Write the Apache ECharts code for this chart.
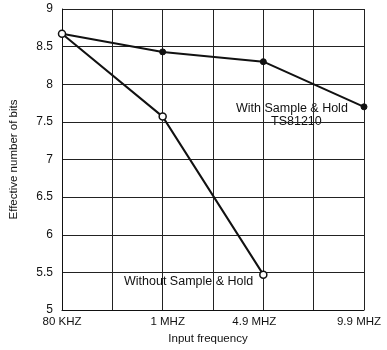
<!DOCTYPE html>
<html>
<head>
<meta charset="utf-8">
<script src="https://cdn.jsdelivr.net/npm/echarts@6/dist/echarts.min.js"></script>
<style>
  html, body { margin: 0; padding: 0; background: #fff; }
  #chart { width: 387px; height: 350px; }
</style>
</head>
<body>
<div id="chart"></div>
<script>
// Input frequencies, placed on every second grid column
const freqLabels = ['80 KHZ', '1 MHZ', '4.9 MHZ', '9.9 MHZ'];
const freqPos = [0, 2, 4, 6];

// Effective number of bits
const withSH = [8.67, 8.43, 8.30, 7.70];
const withoutSH = [8.67, 7.57, 5.47];

const yTicks = [5, 5.5, 6, 6.5, 7, 7.5, 8, 8.5, 9];

const font = 'Liberation Sans, Arial, sans-serif';
const ink = '#111';

// small horizontal nudges for the frequency labels (rich-text padding)
const labelStyles = ['f0', 'f1', 'f2', 'f3'];
const richBase = { fontFamily: font, fontSize: 11.5, color: ink };

const chart = echarts.init(document.getElementById('chart'), null, { renderer: 'canvas' });

chart.setOption({
  animation: false,
  backgroundColor: '#fff',
  grid: { left: 60, right: 23, top: 9, bottom: 40 },
  xAxis: {
    type: 'value',
    min: 0, max: 6, interval: 1,
    name: 'Input frequency',
    nameLocation: 'middle',
    nameGap: 23,
    nameTextStyle: { fontFamily: font, fontSize: 11.5, color: ink, padding: [0, 10, 0, 0] },
    axisLine: { show: true, lineStyle: { color: ink, width: 1 } },
    axisTick: { show: false },
    splitLine: { show: true, lineStyle: { color: '#222', width: 1 } },
    axisLabel: {
      fontFamily: font, fontSize: 11.5, color: ink, margin: 6,
      formatter: v => {
        const i = freqPos.indexOf(v);
        return i >= 0 ? '{' + labelStyles[i] + '|' + freqLabels[i] + '}' : '';
      },
      rich: {
        f0: Object.assign({}, richBase),
        f1: Object.assign({ padding: [0, 0, 0, 10] }, richBase),
        f2: Object.assign({ padding: [0, 18, 0, 0] }, richBase),
        f3: Object.assign({ padding: [0, 10, 0, 0] }, richBase)
      }
    }
  },
  yAxis: {
    type: 'value',
    min: 5, max: 9, interval: 0.5,
    name: 'Effective number of bits',
    nameLocation: 'middle',
    nameGap: 42,
    nameTextStyle: { fontFamily: font, fontSize: 11.5, color: ink },
    axisLine: { show: true, lineStyle: { color: ink, width: 1 } },
    axisTick: { show: false },
    splitLine: { show: true, lineStyle: { color: '#222', width: 1 } },
    axisLabel: {
      fontFamily: font, fontSize: 12, color: ink, margin: 9,
      formatter: v => yTicks.includes(v) ? String(v) : ''
    }
  },
  series: [
    {
      name: 'With Sample & Hold',
      type: 'line',
      data: freqPos.map((x, i) => [x, withSH[i]]),
      lineStyle: { color: ink, width: 2 },
      symbol: 'circle',
      symbolSize: (val, p) => p.dataIndex === 0 ? 0 : 6,
      itemStyle: { color: ink, borderColor: ink, borderWidth: 1 },
      z: 3
    },
    {
      name: 'Without Sample & Hold',
      type: 'line',
      data: withoutSH.map((v, i) => [freqPos[i], v]),
      lineStyle: { color: ink, width: 2 },
      symbol: 'circle',
      symbolSize: 7,
      itemStyle: { color: '#fff', borderColor: ink, borderWidth: 1.5 },
      z: 4
    }
  ],
  graphic: [
    {
      type: 'text', left: 236, top: 102,
      style: { text: 'With Sample & Hold', font: '12.5px ' + font, fill: ink }
    },
    {
      type: 'text', left: 271, top: 115,
      style: { text: 'TS81210', font: '12.5px ' + font, fill: ink }
    },
    {
      type: 'text', left: 124, top: 275,
      style: { text: 'Without Sample & Hold', font: '12.5px ' + font, fill: ink }
    }
  ]
});
</script>
</body>
</html>
